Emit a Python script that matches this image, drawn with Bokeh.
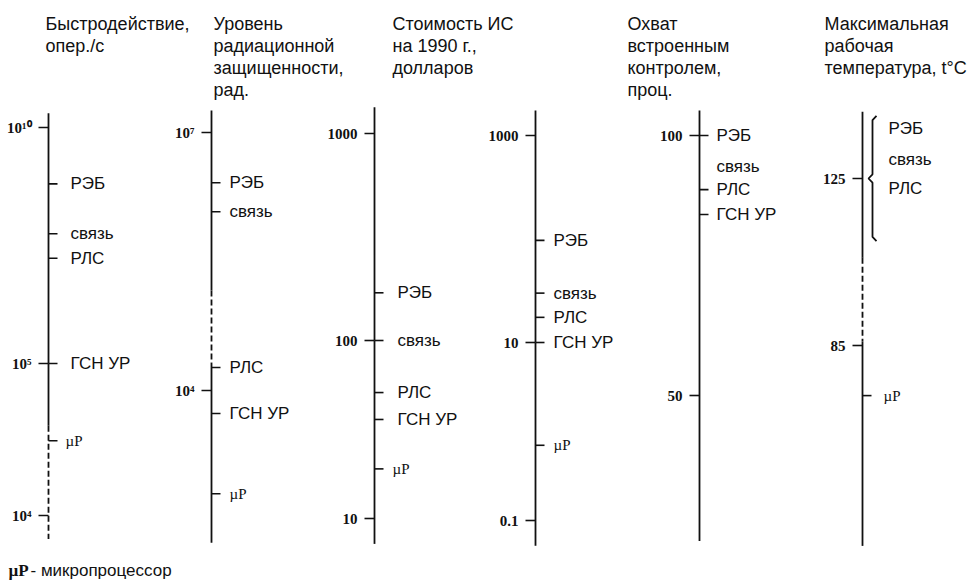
import math
from bokeh.plotting import figure
from bokeh.models import Range1d, LogScale, LinearScale
from bokeh.core.properties import value
from bokeh.embed import file_html
from bokeh.resources import INLINE

# ---------------- data ----------------
header_speed = ["Быстродействие,", "опер./с"]
speed_ticks = [1e10, 1e5, 1e4]
speed_tick_labels = ["10¹⁰", "10⁵", "10⁴"]
speed_cats = ["РЭБ", "связь", "РЛС", "ГСН УР", "µP"]
speed_vals = [6.4e8, 5.6e7, 1.7e7, 1e5, 3.1e4]
speed_marked = [True, True, True, True, True]
speed_span = [2e10, 7e3]
speed_dashed = [3.9e4, 7e3]

header_rad = ["Уровень", "радиационной", "защищенности,", "рад."]
rad_ticks = [1e7, 1e4]
rad_tick_labels = ["10⁷", "10⁴"]
rad_cats = ["РЭБ", "связь", "РЛС", "ГСН УР", "µP"]
rad_vals = [2.6e6, 1.2e6, 1.85e4, 5.4e3, 6.3e2]
rad_marked = [True, True, True, True, True]
rad_span = [1.8e7, 1.7e2]
rad_dashed = [1.45e5, 2.1e4]

header_cost = ["Стоимость ИС", "на 1990 г.,", "долларов"]
cost_ticks = [1000, 100, 10]
cost_tick_labels = ["1000", "100", "10"]
cost_cats = ["РЭБ", "связь", "РЛС", "ГСН УР", "µP"]
cost_vals = [170, 100, 51, 36, 19]
cost_marked = [True, True, True, True, True]
cost_span = [1340, 7.2]

cost2_ticks = [1000, 10, 0.1]
cost2_tick_labels = ["1000", "10", "0.1"]
cost2_cats = ["РЭБ", "связь", "РЛС", "ГСН УР", "µP"]
cost2_vals = [97, 30, 17.5, 10, 0.7]
cost2_marked = [True, True, True, True, True]
cost2_span = [1740, 0.052]

header_bit = ["Охват", "встроенным", "контролем,", "проц."]
bit_ticks = [100, 50]
bit_tick_labels = ["100", "50"]
bit_cats = ["РЭБ", "связь", "РЛС", "ГСН УР"]
bit_vals = [100, 94, 89.6, 84.8]
bit_marked = [True, False, True, True]
bit_span = [104.8, 22]

header_temp = ["Максимальная", "рабочая", "температура, t°C"]
temp_ticks = [125, 85]
temp_tick_labels = ["125", "85"]
temp_cats = ["РЭБ", "связь", "РЛС", "µP"]
temp_vals = [137, 129.5, 122.6, 73]
temp_marked = [False, False, False, True]
temp_group_span = [140, 110]   # brace: РЭБ, связь, РЛС
temp_span = [141, 37]
temp_dashed = [106, 86]

footnote_sym = "µP"
footnote_text = " - микропроцессор"

# ---------------- layout ----------------
W, H = 974, 581
OX, OY = 0, 0
SANS = value("Liberation Sans")
SERIF = value("Liberation Serif")
INK = "#111111"

axes = [
    dict(ticks=speed_ticks, labels=speed_tick_labels, cats=speed_cats, vals=speed_vals,
         marked=speed_marked, span=speed_span, dashed=speed_dashed, log=True,
         x=48, anchors=[127, 363, 515], dx=22),
    dict(ticks=rad_ticks, labels=rad_tick_labels, cats=rad_cats, vals=rad_vals,
         marked=rad_marked, span=rad_span, dashed=rad_dashed, log=True,
         x=211, anchors=[132, 390], dx=18),
    dict(ticks=cost_ticks, labels=cost_tick_labels, cats=cost_cats, vals=cost_vals,
         marked=cost_marked, span=cost_span, dashed=None, log=True,
         x=374, anchors=[133, 340, 518], dx=23),
    dict(ticks=cost2_ticks, labels=cost2_tick_labels, cats=cost2_cats, vals=cost2_vals,
         marked=cost2_marked, span=cost2_span, dashed=None, log=True,
         x=535, anchors=[135, 342, 520], dx=18),
    dict(ticks=bit_ticks, labels=bit_tick_labels, cats=bit_cats, vals=bit_vals,
         marked=bit_marked, span=bit_span, dashed=None, log=False,
         x=699, anchors=[135, 395], dx=17),
    dict(ticks=temp_ticks, labels=temp_tick_labels, cats=temp_cats, vals=temp_vals,
         marked=temp_marked, span=temp_span, dashed=temp_dashed, log=False,
         x=862, anchors=[178, 345], dx=26),
]
headers = [(header_speed, 45), (header_rad, 213), (header_cost, 392),
           (header_bit, 627), (header_temp, 824)]

p = figure(width=W, height=H, output_backend="svg", toolbar_location=None,
           x_range=Range1d(OX, OX + W), y_range=Range1d(OY + H, OY),
           x_axis_location=None, y_axis_location=None, min_border=0)
p.grid.visible = False
p.outline_line_color = None
p.background_fill_color = "white"
p.border_fill_color = "white"

extra_ranges, extra_scales = {}, {}

# the scanned scales are not uniform: each pair of labelled ticks gets its own scale segment
for i, ax in enumerate(axes):
    f = math.log10 if ax["log"] else (lambda v: v)
    names = []
    for k in range(len(ax["ticks"]) - 1):
        t1, t2 = f(ax["ticks"][k]), f(ax["ticks"][k + 1])
        p1, p2 = ax["anchors"][k], ax["anchors"][k + 1]
        slope = (t2 - t1) / (p2 - p1)
        t_top = t1 + (OY - p1) * slope
        t_bot = t1 + (OY + H - p1) * slope
        if ax["log"]:
            start, end = 10 ** t_bot, 10 ** t_top
        else:
            start, end = t_bot, t_top
        rn = f"ax{i}s{k}"
        extra_ranges[rn] = Range1d(start, end)
        extra_scales[rn] = LogScale() if ax["log"] else LinearScale()
        names.append(rn)
    ax["rn"] = names

p.extra_y_ranges = extra_ranges
p.extra_y_scales = extra_scales


def seg_of(ax, v):
    t = ax["ticks"]
    for k in range(len(t) - 1):
        if v >= t[k + 1]:
            return ax["rn"][k]
    return ax["rn"][-1]


def vline(ax, x, top, bot, dash="solid", width=1.8):
    t = ax["ticks"]
    n = len(t) - 1
    bounds = [math.inf] + list(t[1:-1]) + [-math.inf]
    for k in range(n):
        hi = min(top, bounds[k])
        lo = max(bot, bounds[k + 1])
        if hi > lo:
            p.segment(x0=[x], y0=[hi], x1=[x], y1=[lo], y_range_name=ax["rn"][k],
                      line_color=INK, line_width=width, line_dash=dash)


for ax in axes:
    x = ax["x"]
    top, bot = ax["span"]
    if ax["dashed"]:
        d_top, d_bot = ax["dashed"]
        vline(ax, x, top, d_top)
        vline(ax, x, d_top, d_bot, dash="6 3")
        if d_bot > bot:
            vline(ax, x, d_bot, bot)
    else:
        vline(ax, x, top, bot)

    # numeric ticks (left) and labels
    for v, lab in zip(ax["ticks"], ax["labels"]):
        rn = seg_of(ax, v)
        p.segment(x0=[x - 10], y0=[v], x1=[x], y1=[v], y_range_name=rn,
                  line_color=INK, line_width=1.6)
        p.text(x=[x - 17], y=[v], text=[lab], y_range_name=rn,
               text_font=SERIF, text_font_size="15px", text_font_style="bold",
               text_color=INK, text_align="right", text_baseline="middle")

    # category marks (right) and labels
    for c, v, m in zip(ax["cats"], ax["vals"], ax["marked"]):
        rn = seg_of(ax, v)
        if m:
            p.segment(x0=[x], y0=[v], x1=[x + 9], y1=[v], y_range_name=rn,
                      line_color=INK, line_width=1.6)
        if c == "µP":
            p.text(x=[x + ax["dx"] - 5 if ax["dx"] > 20 else x + ax["dx"]], y=[v], text=[c],
                   y_range_name=rn, text_font=SERIF, text_font_size="15px",
                   text_color=INK, text_align="left", text_baseline="middle")
        else:
            p.text(x=[x + ax["dx"]], y=[v], text=[c], y_range_name=rn,
                   text_font=SANS, text_font_size="17px", text_color=INK,
                   text_align="left", text_baseline="middle")

# brace grouping РЭБ / связь / РЛС on the temperature axis
tax = axes[5]
b_top, b_bot = temp_group_span
b_mid = temp_ticks[0]
bx = tax["x"] + 10
bxs = [bx + 4, bx, bx, bx - 4, bx, bx, bx + 4]
bys = [b_top, b_top - 1, b_mid + 1, b_mid, b_mid - 1, b_bot + 1, b_bot]
p.line(x=bxs, y=bys, y_range_name=seg_of(tax, b_mid), line_color=INK, line_width=1.8)

# headers
for lines, hx in headers:
    p.text(x=[hx] * len(lines), y=[23 + 22 * j for j in range(len(lines))], text=lines,
           text_font=SANS, text_font_size="18px", text_color=INK,
           text_align="left", text_baseline="middle")

# footnote
p.text(x=[8], y=[570], text=[footnote_sym], text_font=SERIF, text_font_size="17px",
       text_font_style="bold", text_color=INK, text_align="left", text_baseline="middle")
p.text(x=[30], y=[570], text=[footnote_text], text_font=SANS, text_font_size="17px",
       text_color=INK, text_align="left", text_baseline="middle")

open("out.html", "w").write(file_html(p, INLINE))
